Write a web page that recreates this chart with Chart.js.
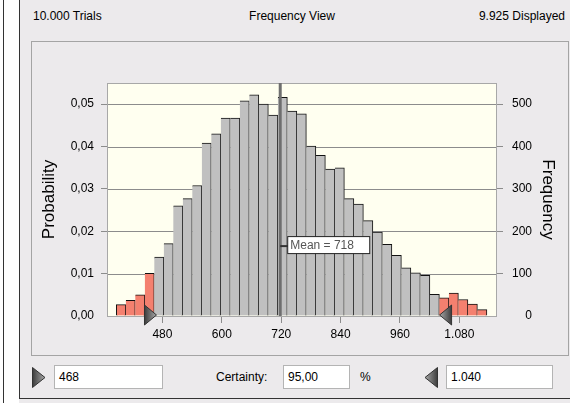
<!DOCTYPE html>
<html>
<head>
<meta charset="utf-8">
<script src="https://cdn.jsdelivr.net/npm/chart.js@4.4.0/dist/chart.umd.min.js"></script>
<style>
  html, body { margin: 0; padding: 0; width: 570px; height: 403px; overflow: hidden; background: #ECEAEC;
    font-family: "Liberation Sans", Arial, sans-serif; font-size: 12px; color: #000; }
  .abs { position: absolute; }
  #strip { left: 0; top: 0; width: 19px; height: 403px; background: #fff; }
  #stripLine { left: 3px; top: 0; width: 1px; height: 403px; background: #333; }
  #panel { left: 19px; top: -1px; width: 560px; height: 400px; border-left: 1px solid #333; border-bottom: 1px solid #333; box-sizing: border-box; }
  .hdr { top: 9px; line-height: 14px; white-space: nowrap; }
  #frame { left: 31px; top: 41px; width: 538px; height: 315px; border: 1px solid #A4A4A4; box-sizing: border-box; }
  .box { top: 365px; height: 24px; line-height: 22px; background: #fff; border: 1px solid #B4B4B4; box-sizing: border-box; padding-left: 4px; }
  .lbl { top: 365px; line-height: 24px; }
  canvas { position: absolute; left: 0; top: 0; }
</style>
</head>
<body>
<div class="abs" id="strip"></div>
<div class="abs" id="stripLine"></div>
<div class="abs" id="panel"></div>
<div class="abs hdr" style="left:33px">10.000 Trials</div>
<div class="abs hdr" style="left:192px;width:200px;text-align:center">Frequency View</div>
<div class="abs hdr" style="right:5px">9.925 Displayed</div>
<div class="abs" id="frame"></div>

<svg class="abs" style="left:32px;top:367px" width="14" height="21">
  <defs><linearGradient id="g1" x1="0" x2="1" y1="0" y2="0"><stop offset="0" stop-color="#3c3c3c"/><stop offset="1" stop-color="#a8a8a8"/></linearGradient></defs>
  <polygon points="0.5,0.5 13,10.5 0.5,20.5" fill="url(#g1)" stroke="#333"/>
</svg>
<div class="abs box" style="left:54px;width:109px">468</div>
<div class="abs lbl" style="left:216px">Certainty:</div>
<div class="abs box" style="left:283px;width:67px">95,00</div>
<div class="abs lbl" style="left:360px">%</div>
<svg class="abs" style="left:425px;top:367px" width="13" height="21">
  <defs><linearGradient id="g2" x1="0" x2="1" y1="0" y2="0"><stop offset="0" stop-color="#a8a8a8"/><stop offset="1" stop-color="#3c3c3c"/></linearGradient></defs>
  <polygon points="12.5,0.5 0,10.5 12.5,20.5" fill="url(#g2)" stroke="#333"/>
</svg>
<div class="abs box" style="left:446px;width:107px">1.040</div>

<canvas id="myChart" width="570" height="403"></canvas>

<script>
// histogram bins (centre of each bin) and counts per bin
var binCenters = [
  396.4, 415.6, 434.8, 454.0, 473.2, 492.4, 511.6, 530.8, 550.0, 569.2,
  588.4, 607.6, 626.8, 646.0, 665.2, 684.4, 703.6, 722.8, 742.0, 761.2,
  780.4, 799.6, 818.8, 838.0, 857.2, 876.4, 895.6, 914.8, 934.0, 953.2,
  972.4, 991.6, 1010.8, 1030.0, 1049.2, 1068.4, 1087.6, 1106.8, 1126.0
];
var frequencies = [
  27, 37, 50, 101, 139, 171, 260, 277, 308, 408,
  430, 467, 467, 508, 522, 500, 474, 516, 484, 477,
  401, 379, 347, 350, 277, 264, 225, 198, 169, 143,
  114, 102, 96, 51, 43, 54, 39, 28, 15
];
var xTicks = [480, 600, 720, 840, 960, 1080];
var probTicks = [0, 0.01, 0.02, 0.03, 0.04, 0.05];
var freqTicks = [0, 100, 200, 300, 400, 500];
var meanValue = 718;
var lowerBound = 468;
var upperBound = 1040;

function thousands(v) {
  var s = String(Math.round(v));
  return s.length > 3 ? s.slice(0, -3) + "." + s.slice(-3) : s;
}
function gridCol(ctx) {
  return ctx.tick && ctx.tick.value === 0 ? "rgba(0,0,0,0)" : "#8c8c8c";
}

Chart.defaults.font.family = '"Liberation Sans", Arial, sans-serif';
Chart.defaults.font.size = 12;
Chart.defaults.color = "#000";

var extras = {
  id: "extras",
  beforeDatasetsDraw: function (chart) {
    var a = chart.chartArea, c = chart.ctx;
    c.save();
    c.fillStyle = "#FFFFF0";
    c.fillRect(a.left, a.top, a.right - a.left, a.bottom - a.top);
    c.restore();
    // grid lines above the background
    var y = chart.scales.y;
    c.save();
    c.strokeStyle = "#8c8c8c";
    c.lineWidth = 1;
    freqTicks.forEach(function (t) {
      if (t === 0) return;
      var py = Math.round(y.getPixelForValue(t)) + 0.5;
      c.beginPath();
      c.moveTo(a.left, py);
      c.lineTo(a.right, py);
      c.stroke();
    });
    c.restore();
  },
  afterDatasetsDraw: function (chart) {
    var a = chart.chartArea, c = chart.ctx, x = chart.scales.x;
    c.save();
    // plot border
    c.strokeStyle = "#A8A8A8";
    c.lineWidth = 1;
    c.strokeRect(Math.round(a.left) + 0.5, Math.round(a.top) + 0.5, Math.round(a.right - a.left) - 1, Math.round(a.bottom - a.top));
    // mean line
    var mx = x.getPixelForValue(meanValue);
    c.strokeStyle = "#6e6e6e";
    c.lineWidth = 3;
    c.beginPath();
    c.moveTo(mx, a.top);
    c.lineTo(mx, a.bottom);
    c.stroke();
    // mean label
    var ly = a.top + 0.7 * (a.bottom - a.top);
    c.strokeStyle = "#333";
    c.lineWidth = 2;
    c.beginPath();
    c.moveTo(mx, ly);
    c.lineTo(mx + 8, ly);
    c.stroke();
    c.fillStyle = "#fff";
    c.fillRect(mx + 7.5, ly - 9.5, 82, 17);
    c.lineWidth = 1;
    c.strokeStyle = "#222";
    c.strokeRect(mx + 7.5, ly - 9.5, 82, 17);
    c.fillStyle = "#555";
    c.font = '12px "Liberation Sans", Arial, sans-serif';
    c.textBaseline = "middle";
    c.fillText("Mean = " + meanValue, mx + 10, ly);
    // certainty markers
    function marker(px, dir) {
      var g = c.createLinearGradient(px - 12 * dir, 0, px, 0);
      g.addColorStop(0, "#3c3c3c");
      g.addColorStop(1, "#a8a8a8");
      c.fillStyle = g;
      c.strokeStyle = "#333";
      c.beginPath();
      c.moveTo(px, a.bottom - 1);
      c.lineTo(px - 12 * dir, a.bottom - 11);
      c.lineTo(px - 12 * dir, a.bottom + 9);
      c.closePath();
      c.fill();
      c.stroke();
    }
    marker(x.getPixelForValue(lowerBound), 1);
    marker(x.getPixelForValue(upperBound), -1);
    c.restore();
  }
};

var ctx = document.getElementById("myChart").getContext("2d");
var histChart = new Chart(ctx, {
  type: "bar",
  data: {
    datasets: [{
      data: binCenters.map(function (b, i) { return { x: b, y: frequencies[i] }; }),
      yAxisID: "y",
      backgroundColor: function (c) {
        var b = binCenters[c.dataIndex];
        return (b < lowerBound || b > upperBound) ? "#F4806F" : "#C0C0C0";
      },
      borderColor: "#111",
      borderWidth: function (c) {
        return { top: 1, right: 1, bottom: 0, left: c.dataIndex === 0 ? 1 : 0 };
      },
      borderSkipped: "bottom",
      barPercentage: 1,
      categoryPercentage: 1
    }]
  },
  options: {
    responsive: false,
    animation: false,
    layout: { padding: { left: 0, right: 38, top: 83, bottom: 62 } },
    plugins: { legend: { display: false }, tooltip: { enabled: false } },
    scales: {
      x: {
        type: "linear",
        offset: false,
        min: 368,
        max: 1156,
        afterBuildTicks: function (s) { s.ticks = xTicks.map(function (v) { return { value: v }; }); },
        afterFit: function (s) { s.height = 25; },
        grid: { offset: false, drawOnChartArea: false, tickLength: 7, color: "#8c8c8c" },
        border: { display: false },
        ticks: { padding: 4, maxRotation: 0, autoSkip: false, callback: function (v) { return thousands(v); } }
      },
      yProb: {
        position: "left",
        min: 0,
        max: 0.055,
        afterBuildTicks: function (s) { s.ticks = probTicks.map(function (v) { return { value: v }; }); },
        afterFit: function (s) { s.width = 107; },
        grid: { drawOnChartArea: false, tickLength: 6, color: gridCol, tickColor: gridCol },
        border: { display: false },
        ticks: { padding: 7, callback: function (v) { return v.toFixed(2).replace(".", ","); } },
        title: { display: true, text: "Probability", font: { size: 17 }, color: "#000", padding: { top: 39 } }
      },
      y: {
        position: "right",
        min: 0,
        max: 550,
        afterBuildTicks: function (s) { s.ticks = freqTicks.map(function (v) { return { value: v }; }); },
        afterFit: function (s) { s.width = 35; },
        grid: { drawOnChartArea: false, tickLength: 6, color: gridCol, tickColor: gridCol },
        border: { display: false },
        ticks: { crossAlign: "far" },
        title: { display: true, text: "Frequency", font: { size: 17 }, color: "#000", padding: { top: -26 } }
      }
    }
  },
  plugins: [extras]
});
</script>
</body>
</html>
